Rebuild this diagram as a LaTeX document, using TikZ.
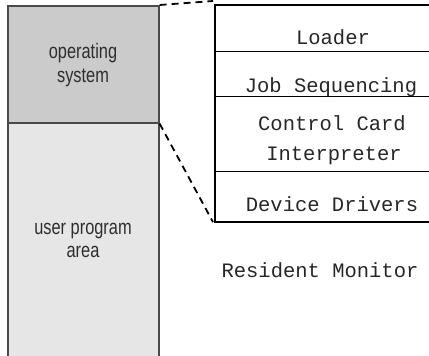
\documentclass[tikz,border=0pt]{standalone}
\usepackage{fontspec}
\setmainfont{Liberation Sans}
\newfontfamily\monofam{Liberation Mono}
\definecolor{osgray}{HTML}{CBCBCB}
\definecolor{usergray}{HTML}{E6E6E6}
\definecolor{edgegray}{HTML}{4A4A4A}
\definecolor{txtgray}{HTML}{2E2E2E}
\begin{document}
\begin{tikzpicture}[x=1pt,y=-1pt,
  region/.style={draw=edgegray, line width=1.6pt, anchor=north west, inner sep=0pt, minimum width=151pt},
  sec/.style={draw=black, line width=1.1pt, anchor=north west, inner sep=0pt, minimum width=236pt},
  sanslbl/.style={text=txtgray, font=\fontsize{21}{24}\selectfont, anchor=base, inner sep=0pt, xscale=0.78},
  monolbl/.style={text=black!85, font=\monofam\fontsize{20.5}{24}\selectfont, anchor=base, inner sep=0pt},
  zoomline/.style={dash pattern=on 7pt off 5pt, line width=1.8pt}]
\useasboundingbox (0,0) rectangle (429,356);
% left memory column
\node[region, fill=usergray, minimum height=240pt] (user) at (7,122) {};
\node[region, fill=osgray, minimum height=117pt] (os) at (7,5) {};
\node[sanslbl] (os1) at (83,58) {operating};
\node[sanslbl] (os2) at (83,82) {system};
\node[sanslbl] (us1) at (83,234) {user program};
\node[sanslbl] (us2) at (83,257) {area};
% resident monitor box
\node[sec, minimum height=46pt] (loader) at (215,5) {};
\node[sec, minimum height=45pt] (job) at (215,51) {};
\node[sec, minimum height=75pt] (ccard) at (215,96) {};
\node[sec, minimum height=50pt] (drivers) at (215,171) {};
\draw[line width=2pt] (drivers.south east) -| (loader.north west) -- (loader.north east);
\node[monolbl] (t1) at (333,45) {Loader};
\node[monolbl] (t2) at (331,92) {Job Sequencing};
\node[monolbl] (t3) at (332,130) {Control Card};
\node[monolbl] (t4) at (334,160) {Interpreter};
\node[monolbl] (t5) at (332,211) {Device Drivers};
\node[monolbl] (t6) at (320,277) {Resident Monitor};
% zoom lines
\draw[zoomline] (os.north east) -- ([shift={(-2pt,4pt)}]loader.north west);
\draw[zoomline] (os.south east) -- ([xshift=-2pt]drivers.south west);
\end{tikzpicture}
\end{document}
